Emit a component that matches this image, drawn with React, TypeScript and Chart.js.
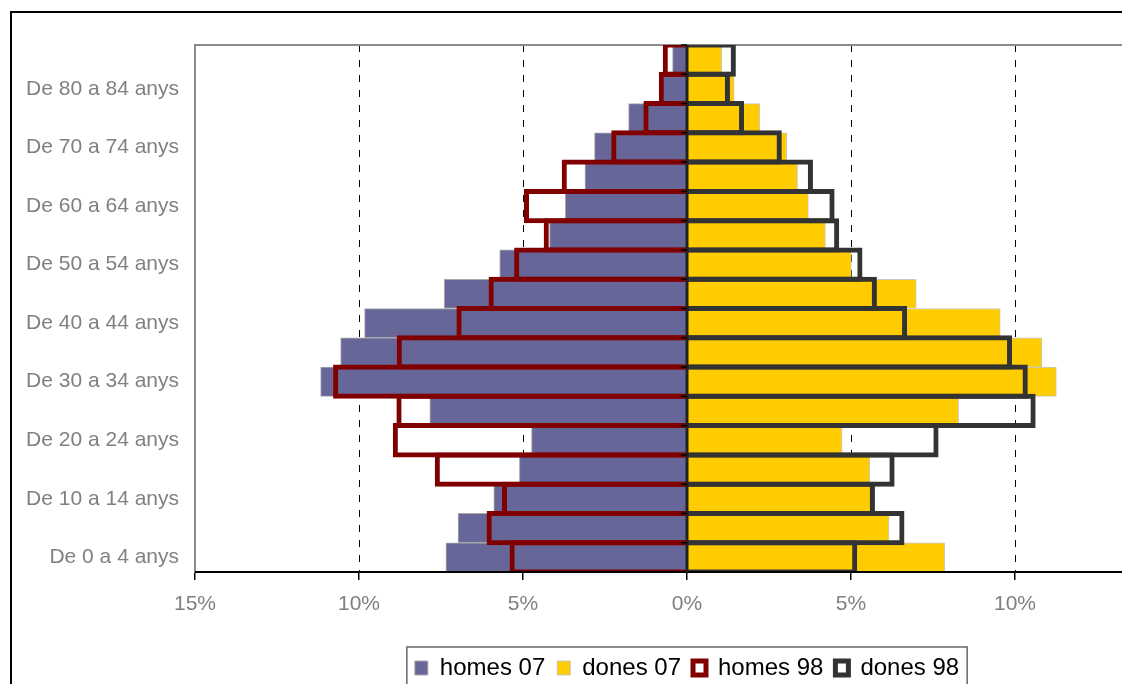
import React, { useEffect, useRef } from 'react';
import { Chart, registerables } from 'chart.js';

Chart.register(...registerables);

// Age groups, from youngest (bottom) to oldest (top)
const ageGroups = [
  'De 0 a 4 anys', 'De 5 a 9 anys', 'De 10 a 14 anys', 'De 15 a 19 anys',
  'De 20 a 24 anys', 'De 25 a 29 anys', 'De 30 a 34 anys', 'De 35 a 39 anys',
  'De 40 a 44 anys', 'De 45 a 49 anys', 'De 50 a 54 anys', 'De 55 a 59 anys',
  'De 60 a 64 anys', 'De 65 a 69 anys', 'De 70 a 74 anys', 'De 75 a 79 anys',
  'De 80 a 84 anys', 'De 85 i més anys',
];

// Percentages of population (men drawn to the left)
const homes07 = [7.35, 6.98, 5.89, 5.11, 4.74, 7.84, 11.17, 10.56, 9.83, 7.40, 5.71, 4.19, 3.71, 3.11, 2.82, 1.78, 0.74, 0.44];
const dones07 = [7.86, 6.16, 5.67, 5.57, 4.73, 8.28, 11.26, 10.82, 9.55, 6.99, 5.01, 4.22, 3.70, 3.37, 3.04, 2.22, 1.44, 1.06];
const homes98 = [5.41, 6.11, 5.64, 7.69, 8.97, 8.86, 10.79, 8.85, 7.03, 6.05, 5.27, 4.37, 4.97, 3.82, 2.31, 1.33, 0.86, 0.74];
const dones98 = [5.19, 6.63, 5.73, 6.33, 7.67, 10.63, 10.39, 9.91, 6.71, 5.79, 5.35, 4.64, 4.50, 3.84, 2.89, 1.74, 1.31, 1.49];

const seriesNames = ['homes 07', 'dones 07', 'homes 98', 'dones 98'];
const xMin = -15;
const xMax = 15;
const xStep = 5;

const W = 1400;
const H = 760;

const framePlugin = {
  id: 'pyramidFrame',
  beforeDraw(chart: any) {
    const ctx = chart.ctx;
    ctx.save();
    ctx.fillStyle = '#ffffff';
    ctx.fillRect(0, 0, chart.width, chart.height);
    ctx.strokeStyle = '#000000';
    ctx.lineWidth = 2;
    ctx.strokeRect(11, 12, chart.width - 40, chart.height - 30);
    ctx.restore();
  },
  beforeDatasetsDraw(chart: any) {
    const { ctx, chartArea: a, scales } = chart;
    const x = scales.x;
    ctx.save();
    ctx.strokeStyle = '#000000';
    ctx.lineWidth = 1;
    ctx.setLineDash([7, 8]);
    x.ticks.forEach((t: any) => {
      if (t.value === 0 || Math.abs(t.value) >= 15) return;
      const px = Math.round(x.getPixelForValue(t.value)) + 0.5;
      ctx.beginPath();
      ctx.moveTo(px, a.top);
      ctx.lineTo(px, a.bottom);
      ctx.stroke();
    });
    ctx.setLineDash([]);
    ctx.strokeStyle = '#8c8c8c';
    ctx.lineWidth = 2;
    ctx.strokeRect(a.left, a.top, a.right - a.left, a.bottom - a.top);
    ctx.restore();
  },
  afterDatasetsDraw(chart: any) {
    const { ctx, chartArea: a, scales } = chart;
    const x = scales.x;
    const y = scales.y;
    const x0 = x.getPixelForValue(0);
    ctx.save();
    ctx.strokeStyle = '#000000';
    ctx.lineWidth = 2;
    ctx.beginPath();
    ctx.moveTo(a.left, a.bottom);
    ctx.lineTo(a.right, a.bottom);
    ctx.stroke();
    ctx.strokeStyle = '#222222';
    ctx.lineWidth = 3;
    ctx.beginPath();
    ctx.moveTo(x0, a.top);
    ctx.lineTo(x0, a.bottom);
    ctx.stroke();
    ctx.strokeStyle = '#000000';
    ctx.lineWidth = 1.5;
    const n = y.getLabels().length;
    for (let i = 0; i <= n; i++) {
      const py = y.getPixelForValue(i - 0.5);
      ctx.beginPath();
      ctx.moveTo(x0 - 6, py);
      ctx.lineTo(x0, py);
      ctx.stroke();
    }
    ctx.restore();
  },
  afterDraw(chart: any) {
    const lg = chart.legend;
    if (!lg || !lg.legendHitBoxes || !lg.legendHitBoxes.length) return;
    const hb = lg.legendHitBoxes;
    const left = Math.min(...hb.map((h: any) => h.left)) - 8;
    const right = Math.max(...hb.map((h: any) => h.left + h.width)) + 8;
    const top = lg.top + 3;
    const ctx = chart.ctx;
    ctx.save();
    ctx.strokeStyle = '#666666';
    ctx.lineWidth = 1.5;
    ctx.strokeRect(left, top, right - left, 60);
    ctx.restore();
  },
};

export default function App() {
  const canvasRef = useRef<HTMLCanvasElement | null>(null);

  useEffect(() => {
    if (!canvasRef.current) return;
    const filled = { barPercentage: 1, categoryPercentage: 1, grouped: false, borderSkipped: 'start' as const };
    const outline = { barPercentage: 1.17, categoryPercentage: 1, grouped: false, borderSkipped: 'start' as const };
    const chart = new Chart(canvasRef.current, {
      type: 'bar',
      data: {
        labels: ageGroups,
        datasets: [
          {
            label: seriesNames[0],
            data: homes07.map((v) => -v),
            backgroundColor: '#666699',
            borderColor: '#a8a8a8',
            borderWidth: 1,
            order: 1,
            ...filled,
          },
          {
            label: seriesNames[1],
            data: dones07,
            backgroundColor: '#FFCC00',
            borderColor: '#c8c8c8',
            borderWidth: 1,
            order: 1,
            ...filled,
          },
          {
            label: seriesNames[2],
            data: homes98.map((v) => -v),
            backgroundColor: 'rgba(255,255,255,0)',
            borderColor: '#800000',
            borderWidth: 5,
            order: 0,
            ...outline,
          },
          {
            label: seriesNames[3],
            data: dones98,
            backgroundColor: 'rgba(255,255,255,0)',
            borderColor: '#333333',
            borderWidth: 5,
            order: 0,
            ...outline,
          },
        ],
      },
      options: {
        indexAxis: 'y',
        responsive: false,
        animation: false,
        devicePixelRatio: 1,
        layout: { padding: { left: 0, right: W - 1179, top: 45, bottom: 70 } },
        scales: {
          x: {
            type: 'linear',
            min: xMin,
            max: xMax,
            afterFit: (s: any) => { s.height = 72; },
            grid: {
              display: true,
              drawOnChartArea: false,
              drawTicks: true,
              tickLength: 8,
              color: '#000000',
              lineWidth: 1.5,
            },
            border: { display: false },
            ticks: {
              stepSize: xStep,
              padding: 12,
              color: '#808080',
              font: { family: '"Liberation Sans", Arial, sans-serif', size: 21 },
              callback: (v: any) => Math.abs(Number(v)) + '%',
            },
          },
          y: {
            type: 'category',
            reverse: true,
            afterFit: (s: any) => { s.width = 195; },
            grid: { display: false, drawTicks: false },
            border: { display: false },
            ticks: {
              autoSkip: false,
              padding: 16,
              color: '#808080',
              font: { family: '"Liberation Sans", Arial, sans-serif', size: 21 },
              callback: (v: any) => (Number(v) % 2 === 0 ? ageGroups[Number(v)] : ''),
            },
          },
        },
        plugins: {
          tooltip: { enabled: false },
          legend: {
            display: true,
            position: 'bottom',
            fullSize: false,
            labels: {
              boxWidth: 13,
              boxHeight: 14,
              padding: 12,
              color: '#000000',
              font: { family: '"Liberation Sans", Arial, sans-serif', size: 24 },
              sort: (a: any, b: any) => a.datasetIndex - b.datasetIndex,
            },
          },
        },
      },
      plugins: [framePlugin],
    } as any);
    return () => chart.destroy();
  }, []);

  return (
    <div
      style={{
        position: 'fixed',
        left: 0,
        top: 0,
        width: 1122,
        height: 684,
        overflow: 'hidden',
        background: '#ffffff',
      }}
    >
      <canvas ref={canvasRef} width={W} height={H} style={{ display: 'block' }} />
    </div>
  );
}
